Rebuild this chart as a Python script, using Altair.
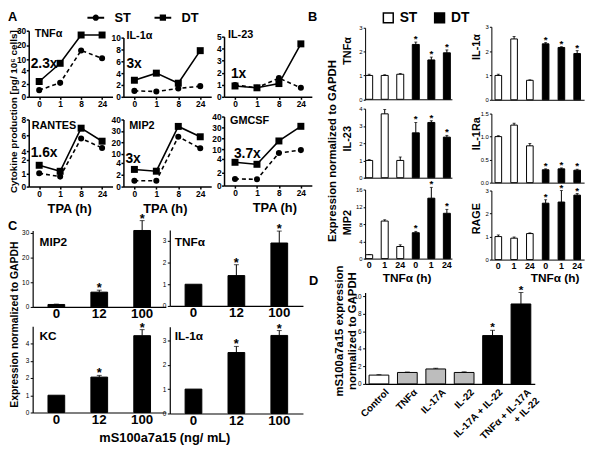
import altair as alt
import pandas as pd

W, H = 592, 443
FONT = "Liberation Sans"


def cx(v):
    return v - 8


def cy(v):
    return v - 8


# ---------------- data ----------------
A_TIMES = ["0", "1", "8", "24"]
A_NAMES = ["TNFα", "IL-1α", "IL-23", "RANTES", "MIP2", "GMCSF"]
A_ST = {
    "TNFα": [1.0, 2.1, 16.2, 10.7],
    "IL-1α": [1.0, 0.9, 1.4, 1.8],
    "IL-23": [0.98, 0.75, 1.55, 0.75],
    "RANTES": [1.0, 0.75, 5.6, 4.4],
    "MIP2": [1.0, 1.0, 25.0, 15.0],
    "GMCSF": [1.0, 0.95, 7.6, 9.4],
}
A_DT = {
    "TNFα": [2.3, 7.8, 27.0, 27.0],
    "IL-1α": [2.8, 4.0, 2.3, 7.8],
    "IL-23": [0.9, 0.75, 1.1, 4.4],
    "RANTES": [1.6, 1.15, 6.9, 5.25],
    "MIP2": [2.9, 2.6, 34.0, 25.0],
    "GMCSF": [3.5, 3.2, 17.5, 31.0],
}
A_FOLD = ["2.3x", "3x", "1x", "1.6x", "3x", "3.7x"]
A_YDOM = {"TNFα": [0, 4, 10, 30], "IL-1α": [0, 10], "IL-23": [0, 5],
          "RANTES": [0, 2, 4, 8], "MIP2": [0, 4, 10, 40], "GMCSF": [0, 4, 10, 40]}
A_YTICKS = {"TNFα": [0, 2, 4, 10, 20, 30], "IL-1α": [0, 2, 4, 6, 8, 10],
            "IL-23": [0, 1, 2, 3, 4, 5], "RANTES": [0, 1, 2, 4, 6, 8],
            "MIP2": [0, 2, 4, 10, 20, 30, 40], "GMCSF": [0, 2, 4, 10, 20, 30, 40]}

B_CATS = ["ST0", "ST1", "ST24", "DT0", "DT1", "DT24"]
B_GROUP = ["ST", "ST", "ST", "DT", "DT", "DT"]
B_STARS = [0, 0, 0, 1, 1, 1]
B_NAMES = ["TNFα", "IL-1α", "IL-23", "IL-1Ra", "MIP2", "RAGE"]
B_VALS = {
    "TNFα": [1.0, 1.0, 1.05, 2.3, 1.65, 1.95],
    "IL-1α": [1.0, 2.5, 0.8, 2.3, 2.15, 1.9],
    "IL-23": [1.0, 3.7, 1.0, 2.6, 3.2, 2.35],
    "IL-1Ra": [1.0, 1.25, 0.8, 0.28, 0.3, 0.27],
    "MIP2": [0.9, 8.7, 2.8, 6.0, 14.0, 10.5],
    "RAGE": [1.0, 0.93, 1.13, 2.45, 2.5, 2.8],
}
B_ERRS = {
    "TNFα": [0.05, 0.03, 0.03, 0.1, 0.12, 0.12],
    "IL-1α": [0.05, 0.1, 0.02, 0.05, 0.03, 0.12],
    "IL-23": [0.05, 0.25, 0.2, 0.6, 0.1, 0.1],
    "IL-1Ra": [0.02, 0.04, 0.05, 0.02, 0.02, 0.02],
    "MIP2": [0.05, 0.3, 0.4, 0.3, 2.5, 0.9],
    "RAGE": [0.07, 0.05, 0.03, 0.15, 0.5, 0.07],
}
B_YMAX = {"TNFα": 3, "IL-1α": 3, "IL-23": 4, "IL-1Ra": 1.5, "MIP2": 16, "RAGE": 3}
B_YTICKS = {"TNFα": [0, 1, 2, 3], "IL-1α": [0, 1, 2, 3], "IL-23": [0, 1, 2, 3, 4],
            "IL-1Ra": [0, 0.5, 1.0, 1.5], "MIP2": [0, 4, 8, 12, 16], "RAGE": [0, 1, 2, 3]}

C_CATS = ["0", "12", "100"]
C_NAMES = ["MIP2", "TNFα", "KC", "IL-1α"]
C_VALS = {"MIP2": [1.0, 6.0, 31.0], "TNFα": [1.0, 1.4, 2.9],
          "KC": [1.0, 2.05, 4.45], "IL-1α": [1.0, 2.5, 3.2]}
C_ERRS = {"MIP2": [0.15, 0.8, 4.0], "TNFα": [0.0, 0.5, 0.55],
          "KC": [0.0, 0.1, 0.35], "IL-1α": [0.0, 0.25, 0.2]}
C_STARS = [0, 1, 1]
C_YMAX = {"MIP2": 31, "TNFα": 3.5, "KC": 5, "IL-1α": 3.56}
C_YTICKS = {"MIP2": [0, 10, 20, 30], "TNFα": [0, 1, 2, 3], "KC": [0, 1, 2, 3, 4], "IL-1α": [0, 1, 2, 3]}

D_CATS = ["Control", "TNFα", "IL-17A", "IL-22", "IL-17A + IL-22", "TNFα + IL-17A + IL-22"]
D_GROUP = ["c", "g", "g", "g", "b", "b"]
D_VALS = [1.0, 1.3, 1.7, 1.3, 5.5, 9.1]
D_ERRS = [0.05, 0.05, 0.08, 0.07, 0.6, 1.3]
D_STARS = [0, 0, 0, 0, 1, 1]

layers = []

# ---------------- Panel A ----------------
A_LAY = {
    "TNFα": dict(yax=29, xr=(29, 114), yr=[95, 68, 57, 28], xay=95),
    "IL-1α": dict(yax=125, xr=(125, 214), yr=[95, 35], xay=95),
    "IL-23": dict(yax=227, xr=(227, 316), yr=[95, 34], xay=95),
    "RANTES": dict(yax=29, xr=(29, 114), yr=[186, 159, 150, 118], xay=186, tx=70),
    "MIP2": dict(yax=125, xr=(125, 214), yr=[186, 162, 153, 118], xay=186, tx=167),
    "GMCSF": dict(yax=227, xr=(227, 316), yr=[185, 158, 148, 115], xay=185, tx=278),
}
A_AX = dict(labelFontSize=8.5, labelFontWeight="bold", tickSize=2.5, labelPadding=0.5,
            domainWidth=1.5, tickWidth=1.5, grid=False)

for name in A_NAMES:
    lay = A_LAY[name]
    df = pd.DataFrame({"t": A_TIMES * 2, "v": A_ST[name] + A_DT[name],
                       "s": ["ST"] * 4 + ["DT"] * 4, "i": [0, 1, 2, 3] * 2})
    xs = alt.Scale(type="point", domain=A_TIMES,
                   range=[cx(lay["xr"][0]), cx(lay["xr"][1])], padding=0.5)
    ys = alt.Scale(type="linear", domain=A_YDOM[name],
                   range=[cy(v) for v in lay["yr"]], nice=False, zero=False)
    if "tx" in lay:
        xa = alt.Axis(orient="bottom", offset=cy(lay["xay"]) - H, labelAngle=0,
                      title="TPA (h)", titleX=cx(lay["tx"]), titleY=22, titleAngle=0,
                      titleFontSize=13, titleFontWeight="bold", titleAlign="center",
                      titleBaseline="middle", **A_AX)
    else:
        xa = alt.Axis(orient="bottom", offset=cy(lay["xay"]) - H, labelAngle=0,
                      title=None, **A_AX)
    ya = alt.Axis(orient="left", offset=-cx(lay["yax"]), values=A_YTICKS[name],
                  title=None, **A_AX)
    xe = alt.X("t:O", scale=xs, axis=xa)
    ye = alt.Y("v:Q", scale=ys, axis=ya)
    base = alt.Chart(df)
    st = base.transform_filter("datum.s == 'ST'")
    dt = base.transform_filter("datum.s == 'DT'")
    l1 = st.mark_line(color="black", strokeWidth=1.6, strokeDash=[4, 3]).encode(
        x=xe, y=ye, order=alt.Order("i:Q"))
    l2 = dt.mark_line(color="black", strokeWidth=1.6).encode(
        x=xe, y=ye, order=alt.Order("i:Q"))
    p1 = st.mark_point(shape="circle", filled=True, size=38, color="black", opacity=1).encode(
        x=xe, y=ye)
    p2 = dt.mark_point(shape="square", filled=True, size=50, color="black", opacity=1).encode(
        x=xe, y=ye)
    layers.append(alt.layer(l1, l2, p1, p2))


# ---------------- bar helper ----------------
def bar_panel(df, xs, ys, xa, ya, fill_scale, fill_legend, cap, star_size, star_dy):
    xe = alt.X("c:N", scale=xs, axis=xa, sort=None)
    bars = alt.Chart(df).mark_bar(stroke="black", strokeWidth=1).encode(
        x=xe, y=alt.Y("v:Q", scale=ys, axis=ya),
        fill=alt.Fill("g:N", scale=fill_scale, legend=fill_legend))
    e = alt.Chart(df).transform_filter("datum.e > 0")
    rules = e.mark_rule(color="black", strokeWidth=1).encode(
        x=xe, y=alt.Y("v:Q", scale=ys, axis=ya), y2="hi:Q")
    caps = e.mark_tick(color="black", thickness=1, size=cap, orient="horizontal").encode(
        x=xe, y=alt.Y("hi:Q", scale=ys, axis=ya))
    stars = alt.Chart(df).transform_filter("datum.s == 1").mark_text(
        text="*", fontSize=star_size, fontWeight="bold", baseline="middle",
        dy=star_dy, color="black").encode(
        x=xe, y=alt.Y("hi:Q", scale=ys, axis=ya))
    return alt.layer(bars, rules, caps, stars)


# ---------------- Panel B ----------------
B_COL = [dict(yax=370, xr=(369, 458), p=0.55, o=0.1, ttl_x=352, tx=412),
         dict(yax=498, xr=(498, 592), p=0.58, o=0.23, ttl_x=483, tx=562)]
B_LAY = {
    "TNFα": dict(col=0, y0=97.5, ytop=25, ttl_y=48, bottom=False),
    "IL-1α": dict(col=1, y0=98, ytop=24, ttl_y=44, bottom=False),
    "IL-23": dict(col=0, y0=177, ytop=107, ttl_y=137, bottom=False),
    "IL-1Ra": dict(col=1, y0=182, ytop=112, ttl_y=132, bottom=False),
    "MIP2": dict(col=0, y0=259, ytop=189, ttl_y=222, bottom=True),
    "RAGE": dict(col=1, y0=260, ytop=190, ttl_y=218, bottom=True),
}
B_FILL = alt.Scale(domain=["ST", "DT"], range=["white", "black"])

for name in B_NAMES:
    lay = B_LAY[name]
    col = B_COL[lay["col"]]
    df = pd.DataFrame({"c": B_CATS, "g": B_GROUP, "v": B_VALS[name],
                       "e": B_ERRS[name], "s": B_STARS})
    df["hi"] = df["v"] + df["e"]
    xs = alt.Scale(type="band", domain=B_CATS, range=[cx(col["xr"][0]), cx(col["xr"][1])],
                   paddingInner=col["p"], paddingOuter=col["o"])
    ys = alt.Scale(type="linear", domain=[0, B_YMAX[name]],
                   range=[cy(lay["y0"]), cy(lay["ytop"])], nice=False, zero=False)
    if lay["bottom"]:
        xa = alt.Axis(orient="bottom", offset=cy(lay["y0"]) - H, labelAngle=0,
                      labelExpr="substring(datum.label, 2)", labelFontSize=9,
                      labelFontWeight="bold", labelPadding=2, ticks=False,
                      domainWidth=1, title="TNFα (h)", titleX=cx(col["tx"]),
                      titleY=278 - lay["y0"], titleAngle=0, titleFontSize=12,
                      titleFontWeight="bold", titleAlign="center", titleBaseline="middle")
    else:
        xa = alt.Axis(orient="bottom", offset=cy(lay["y0"]) - H, labels=False,
                      ticks=False, domainWidth=1, title=None)
    ya = alt.Axis(orient="left", offset=-cx(col["yax"]), values=B_YTICKS[name],
                  format=".1f" if name == "IL-1Ra" else "d",
                  labelFontSize=6, tickSize=2, labelPadding=1, domainWidth=1,
                  tickWidth=1, title=name, titleX=-(col["yax"] - col["ttl_x"]),
                  titleY=cy(lay["ttl_y"]), titleAngle=270, titleFontSize=11,
                  titleFontWeight="bold", titleAlign="center", titleBaseline="middle")
    if name == "TNFα":
        leg = alt.Legend(orient="none", legendX=cx(386.5), legendY=0,
                         direction="horizontal", title=None, symbolType="square",
                         symbolSize=100, symbolStrokeWidth=1.5, labelFontSize=14,
                         labelFontWeight="bold", labelOffset=4.5, columnPadding=14,
                         padding=0)
    else:
        leg = None
    layers.append(bar_panel(df, xs, ys, xa, ya, B_FILL, leg, 3, 10, -3))

# ---------------- Panel C ----------------
C_LAY = {
    "MIP2": dict(yax=33, xr=(33, 168), y0=308, ytop=230.5),
    "TNFα": dict(yax=172, xr=(172, 307), y0=307, ytop=230),
    "KC": dict(yax=33, xr=(33, 168), y0=415, ytop=327.5),
    "IL-1α": dict(yax=172, xr=(172, 307), y0=416, ytop=328),
}
C_FILL = alt.Scale(domain=["b"], range=["black"])
for name in C_NAMES:
    lay = C_LAY[name]
    df = pd.DataFrame({"c": C_CATS, "g": ["b"] * 3, "v": C_VALS[name],
                       "e": C_ERRS[name], "s": C_STARS})
    df["hi"] = df["v"] + df["e"]
    xs = alt.Scale(type="band", domain=C_CATS, range=[cx(lay["xr"][0]), cx(lay["xr"][1])],
                   paddingInner=0.61, paddingOuter=0.357)
    ys = alt.Scale(type="linear", domain=[0, C_YMAX[name]],
                   range=[cy(lay["y0"]), cy(lay["ytop"])], nice=False, zero=False)
    xa = alt.Axis(orient="bottom", offset=cy(lay["y0"]) - H, labelAngle=0,
                  labelFontSize=13.5, labelFontWeight="bold", labelPadding=0,
                  ticks=False, domainWidth=1.2, title=None)
    ya = alt.Axis(orient="left", offset=-cx(lay["yax"]), values=C_YTICKS[name],
                  labelFontSize=6.5, tickSize=2.5, labelPadding=1.5, domainWidth=1.2,
                  tickWidth=1, title=None)
    layers.append(bar_panel(df, xs, ys, xa, ya, C_FILL, None, 5, 13, -2))

# ---------------- Panel D ----------------
dfd = pd.DataFrame({"c": D_CATS, "g": D_GROUP, "v": D_VALS, "e": D_ERRS, "s": D_STARS})
dfd["hi"] = dfd["v"] + dfd["e"]
xs_d = alt.Scale(type="band", domain=D_CATS, range=[cx(370), cx(542)],
                 paddingInner=0.305, paddingOuter=0.14)
ys_d = alt.Scale(type="linear", domain=[0, 10.4], range=[cy(386), cy(293.4)],
                 nice=False, zero=False)
xa_d = alt.Axis(orient="bottom", offset=cy(386) - H, labelAngle=315, labelAlign="right",
                labelBaseline="top", labelFontSize=10, labelFontWeight="bold",
                labelPadding=3, labelOffset=5, ticks=False, domainWidth=1.2, title=None,
                labelExpr="datum.label == 'TNFα + IL-17A + IL-22' ? ['TNFα + IL-17A', '+ IL-22'] : datum.label")
ya_d = alt.Axis(orient="left", offset=-cx(370), values=[0, 2, 4, 6, 8, 10],
                labelFontSize=6.5, tickSize=2.5, labelPadding=1.5, domainWidth=1.2,
                tickWidth=1, title=["mS100a7a15 expression", "normalized to GAPDH"],
                titleX=-26, titleY=cy(332), titleAngle=270, titleFontSize=11.5,
                titleFontWeight="bold", titleAlign="center", titleBaseline="middle",
                titleLineHeight=13)
D_FILL = alt.Scale(domain=["c", "g", "b"], range=["white", "#bdbdbd", "black"])
layers.append(bar_panel(dfd, xs_d, ys_d, xa_d, ya_d, D_FILL, None, 5, 12, -3))

# ---------------- legend for A ----------------
CIRC = ("M-2.4,-0.28H2.4V0.28H-2.4Z"
        "M0.9,0A0.9,0.9,0,1,1,-0.9,0A0.9,0.9,0,1,1,0.9,0Z")
SQ = "M-2.4,-0.28H2.4V0.28H-2.4ZM-0.9,-0.9H0.9V0.9H-0.9Z"
leg_a = alt.Chart(pd.DataFrame({"series": ["ST", "DT"]})).mark_point(
    filled=True, opacity=0, color="black").encode(
    shape=alt.Shape("series:N", scale=alt.Scale(domain=["ST", "DT"], range=[CIRC, SQ]),
                    legend=alt.Legend(orient="none", legendX=cx(90.5), legendY=0,
                                      direction="horizontal", title=None, symbolSize=50,
                                      labelFontSize=13, labelFontWeight="bold",
                                      labelOffset=12.5, columnPadding=20, padding=0,
                                      symbolFillColor="black")))
layers.append(leg_a)


# ---------------- text ----------------
def txt(s, x, y, size=12, align="left", angle=0, baseline="middle"):
    return alt.Chart(pd.DataFrame({"s": [s]})).mark_text(
        fontSize=size, fontWeight="bold", align=align, baseline=baseline,
        angle=angle, color="black").encode(
        x=alt.value(cx(x)), y=alt.value(cy(y)), text="s:N")


layers += [
    txt("A", 8, 8, 13, baseline="top"), txt("B", 312, 8, 13, baseline="top"),
    txt("C", 8, 226, 13), txt("D", 313, 282, 13),
    txt("TNFα", 35, 31, 11), txt("IL-1α", 128, 33, 11), txt("IL-23", 231, 32, 11),
    txt("RANTES", 32, 125, 11), txt("MIP2", 131, 125, 11), txt("GMCSF", 233, 120, 11),
    txt(A_FOLD[0], 31, 62, 14), txt(A_FOLD[1], 128, 62, 14), txt(A_FOLD[2], 234, 72, 14),
    txt(A_FOLD[3], 31, 152, 14), txt(A_FOLD[4], 127, 158, 14), txt(A_FOLD[5], 237, 153, 14),
    txt("Cytokine production [pg/ 10⁶ cells]", 14, 110, 10, "center", 270),
    txt("Expression normalized to GAPDH", 337, 150, 11.5, "center", 270),
    txt("Expression normalized to GAPDH", 15, 326, 10.5, "center", 270),
    txt("mS100a7a15 (ng/ mL)", 167, 441, 13, "center"),
    txt("MIP2", 40, 242, 12), txt("TNFα", 177, 242, 12),
    txt("KC", 40, 338, 12), txt("IL-1α", 177, 338, 12),
]

chart = alt.layer(*layers).resolve_scale(
    x="independent", y="independent", fill="independent", shape="independent"
).resolve_axis(x="independent", y="independent").resolve_legend(
    fill="independent", shape="independent"
).properties(
    width=W, height=H, autosize=alt.AutoSizeParams(type="none"), padding=0
).configure(font=FONT).configure_view(stroke=None).configure_axis(
    grid=False, labelFont=FONT, titleFont=FONT, domainColor="black", tickColor="black",
    labelColor="black", titleColor="black"
).configure_legend(labelFont=FONT, labelColor="black").configure_text(font=FONT)

chart.save("out.html", embed_options={"renderer": "svg", "actions": False})
